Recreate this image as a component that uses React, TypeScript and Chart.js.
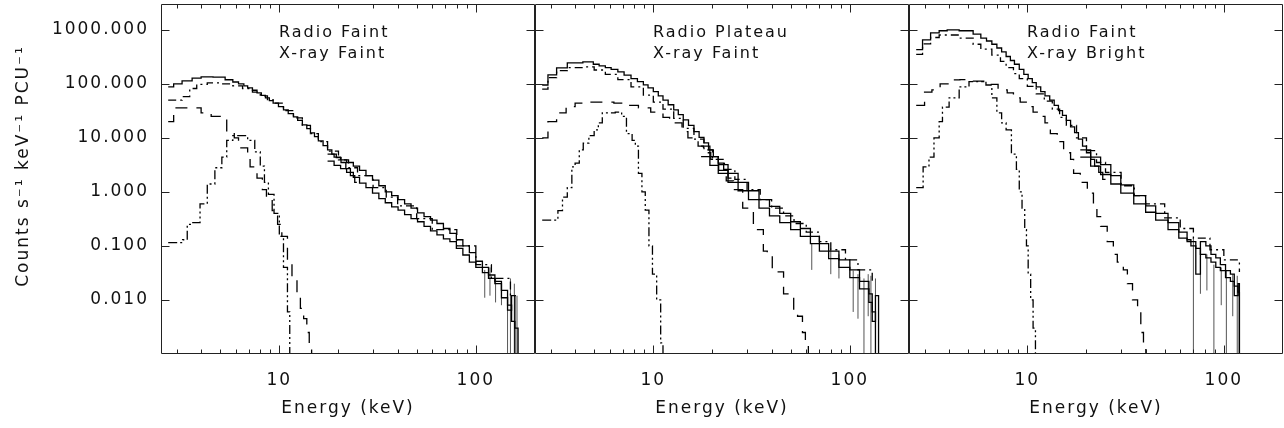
import React, { useEffect, useRef } from 'react';
import { Chart, registerables } from 'chart.js';

Chart.register(...registerables);

const CANVAS_W = 1284;
const CANVAS_H = 428;
const FONT_FAMILY = 'DejaVu Sans';
const TEXT_COLOR = '#111';
const AXIS_COLOR = '#222';

const xRange = [2.5, 200];
const yRange = [0.001, 3000];
const yTickValues = [0.01, 0.1, 1, 10, 100, 1000];
const xMajorTicks = [10, 100];
const xMinorTicks = [3, 4, 5, 6, 7, 8, 9, 20, 30, 40, 50, 60, 70, 80, 90];
const xTitle = 'Energy (keV)';
const yTitle = 'Counts s⁻¹ keV⁻¹ PCU⁻¹';

// ---------------- Panel 1: Radio Faint / X-ray Faint ----------------
const p1Labels = ['Radio Faint', 'X-ray Faint'];
const p1TotalE = [2.72, 2.9, 3.2, 3.6, 4.0, 4.6, 5.3, 5.8, 6.2, 6.6, 6.9, 7.3, 7.7, 8.1, 8.5, 8.9, 9.3, 9.9, 10.5, 11.1, 11.8, 12.4, 13.1, 13.8, 14.4, 15.1, 15.8, 16.7, 17.6, 18.5, 19.5, 20.6, 21.8, 23.0, 24.2, 24.8];
const p1TotalV = [88, 100, 113, 127, 134, 133, 119, 108, 100, 92, 84, 76, 68, 61, 55, 49, 44, 38, 33, 28, 24.4, 21, 17.4, 14.8, 12.4, 10.5, 8.8, 7.2, 6.0, 5.0, 4.3, 3.5, 2.7, 2.0, 1.5, 1.5];
const p1HexteE = [17.6, 19.0, 20.5, 22.0, 23.8, 25.6, 27.6, 29.8, 32.1, 34.6, 37.3, 40.2, 43.4, 46.8, 50.5, 54.5, 58.8, 63.4, 68.4, 73.8, 79.6, 85.9, 92.7, 100, 108, 116, 125, 135, 145, 152, 158, 164];
const p1HexteAV = [5.0, 4.4, 3.9, 3.5, 3.0, 2.5, 2.0, 1.65, 1.3, 1.0, 0.85, 0.72, 0.6, 0.5, 0.41, 0.35, 0.3, 0.26, 0.21, 0.17, 0.13, 0.1, 0.075, 0.052, 0.04, 0.029, 0.022, 0.015, 0.0065, 0.012, 0.003, 0.0004];
const p1HexteBV = [3.7, 3.1, 2.7, 2.3, 1.85, 1.45, 1.2, 0.95, 0.75, 0.63, 0.53, 0.46, 0.38, 0.32, 0.28, 0.23, 0.19, 0.16, 0.135, 0.12, 0.09, 0.068, 0.05, 0.04, 0.032, 0.025, 0.02, 0.011, 0.008, 0.004, 0.0004, 0.0004];
const p1CompE = [2.72, 3.2, 3.5, 3.8, 4.3, 5.0, 5.8, 6.5, 7.3, 8.0, 8.7, 9.3, 10.5, 11.8, 13.1, 14.4, 15.8, 17.6, 20, 22.5, 25, 30, 35, 40, 50, 60, 80, 100, 120, 150, 160];
const p1CompV = [50, 58, 82, 98, 104, 100, 92, 82, 70, 60, 51, 44, 32, 23.5, 17, 12, 8.5, 5.7, 3.9, 2.8, 2.0, 1.2, 0.8, 0.55, 0.32, 0.2, 0.1, 0.045, 0.025, 0.012, 0.012];
const p1DiskE = [2.72, 2.9, 4.0, 4.5, 5.0, 5.4, 5.9, 6.2, 6.9, 7.1, 7.7, 8.2, 8.6, 9.2, 9.8, 10.3, 11.0, 11.6, 12.3, 12.8, 13.3, 13.8, 14.2, 14.6];
const p1DiskV = [20, 36, 29, 25, 23, 12, 10, 6.5, 4.5, 2.9, 1.8, 1.1, 0.75, 0.45, 0.25, 0.15, 0.05, 0.025, 0.013, 0.007, 0.0045, 0.0025, 0.0013, 0.0004];
const p1LineE = [2.72, 3.22, 3.4, 3.6, 3.95, 4.3, 4.7, 5.1, 5.4, 5.8, 6.9, 7.5, 8.0, 8.4, 8.8, 9.4, 10.0, 10.5, 11.0, 11.3];
const p1LineV = [0.115, 0.13, 0.25, 0.27, 0.6, 1.4, 2.8, 4.4, 9, 11, 9, 5.5, 3.0, 1.5, 0.9, 0.4, 0.15, 0.04, 0.006, 0.0004];
const p1ErrE = [111, 118, 126, 135, 145, 150, 157, 162];
const p1ErrLo = [0.011, 0.012, 0.009, 0.008, 0.0002, 0.0002, 0.0002, 0.0002];
const p1ErrHi = [0.036, 0.04, 0.025, 0.022, 0.012, 0.025, 0.02, 0.012];

// ---------------- Panel 2: Radio Plateau / X-ray Faint ----------------
const p2Labels = ['Radio Plateau', 'X-ray Faint'];
const p2TotalE = [2.72, 2.91, 3.22, 3.65, 4.38, 4.95, 5.3, 5.7, 6.1, 6.6, 7.1, 7.7, 8.3, 8.9, 9.4, 10.0, 10.6, 11.2, 11.9, 12.7, 13.4, 14.2, 15.1, 16.1, 17.1, 18.1, 19.1, 20.2, 21.4, 22.8, 24.0, 25.0];
const p2TotalV = [95, 147, 197, 245, 255, 230, 215, 200, 185, 167, 145, 125, 110, 96, 84, 72, 60, 50, 41, 33, 27, 21.5, 17, 13, 10.2, 8.1, 6.0, 4.5, 3.4, 2.5, 1.8, 1.8];
const p2HexteE = [17.5, 19.4, 21.4, 24, 27, 30.5, 34.5, 39, 44, 50, 56, 63, 70, 78, 88, 100, 112, 125, 130, 135, 140];
const p2HexteAV = [7, 4.5, 3.2, 2.2, 1.5, 1.05, 0.72, 0.54, 0.4, 0.28, 0.21, 0.15, 0.11, 0.08, 0.055, 0.036, 0.022, 0.013, 0.004, 0.012, 0.0004];
const p2HexteBV = [4.5, 3.1, 2.2, 1.5, 1.05, 0.72, 0.5, 0.36, 0.27, 0.2, 0.15, 0.11, 0.08, 0.058, 0.04, 0.026, 0.016, 0.009, 0.006, 0.0004, 0.0004];
const p2CompE = [2.72, 2.91, 3.22, 3.65, 4.4, 5.0, 5.7, 6.6, 7.7, 8.9, 10, 11.2, 12.7, 14.2, 16.1, 18.1, 20, 23, 26, 30, 35, 40, 46, 52, 60, 70, 80, 95, 110, 130];
const p2CompV = [80, 130, 175, 200, 205, 180, 150, 120, 88, 62, 46, 34, 23, 15, 9.5, 6, 4, 2.6, 1.7, 1.1, 0.72, 0.5, 0.36, 0.26, 0.18, 0.12, 0.085, 0.055, 0.036, 0.022];
const p2DiskE = [2.72, 2.91, 3.22, 3.6, 4.0, 4.5, 5.4, 6.3, 7.4, 8.4, 9.7, 11.2, 12.1, 14.0, 15.0, 16.9, 18.0, 19.6, 21.5, 23.5, 25.6, 28.5, 30.2, 32.3, 33.9, 36.3, 38.0, 40.3, 43.2, 46.0, 48.8, 51.8, 54.2, 57.4, 59.4, 61.5];
const p2DiskV = [10, 20, 29, 38, 44, 46, 46, 44, 40, 36, 30, 24, 19, 13, 10, 7, 5.3, 4, 2.5, 1.6, 1.1, 0.5, 0.43, 0.23, 0.2, 0.08, 0.075, 0.036, 0.033, 0.013, 0.013, 0.0056, 0.005, 0.0025, 0.0018, 0.0004];
const p2LineE = [2.72, 3.27, 3.45, 3.65, 3.85, 4.0, 4.2, 4.4, 4.7, 5.0, 5.25, 5.5, 6.4, 6.9, 7.3, 7.8, 8.1, 8.4, 8.75, 9.1, 9.5, 9.9, 10.4, 10.9, 11.2];
const p2LineV = [0.3, 0.45, 0.8, 1.2, 2.9, 3.4, 6, 8, 11, 14, 19, 29, 30, 25, 12, 9, 7, 2.2, 1.0, 0.46, 0.1, 0.03, 0.01, 0.0016, 0.0004];
const p2ErrE = [64, 80, 88, 104, 110, 118, 124, 128, 135];
const p2ErrLo = [0.036, 0.03, 0.025, 0.006, 0.0045, 0.0002, 0.005, 0.0002, 0.003];
const p2ErrHi = [0.11, 0.09, 0.07, 0.035, 0.03, 0.025, 0.03, 0.028, 0.025];

// ---------------- Panel 3: Radio Faint / X-ray Bright ----------------
const p3Labels = ['Radio Faint', 'X-ray Bright'];
const p3TotalE = [2.72, 2.93, 3.22, 3.56, 3.91, 4.5, 5.3, 5.8, 6.2, 6.6, 7.0, 7.4, 7.8, 8.2, 8.6, 9.1, 9.6, 10.1, 10.6, 11.1, 11.7, 12.3, 13.0, 13.7, 14.4, 15.1, 15.8, 16.6, 17.4, 18.2, 19.1, 20.0, 21.0, 22.0, 23.1, 24.2, 25.0];
const p3TotalV = [430, 650, 880, 960, 1000, 960, 830, 700, 620, 540, 460, 390, 320, 270, 230, 185, 150, 125, 105, 88, 72, 60, 50, 40, 32, 26, 21, 16, 12.5, 9.5, 7.0, 5.3, 4.0, 3.0, 2.3, 1.7, 1.7];
const p3HexteE = [18.6, 21, 23.6, 26.6, 29.9, 34.8, 40, 45, 52, 59, 65, 68, 72, 76, 81, 86, 91, 96, 102, 108, 113, 118, 120];
const p3HexteAV = [6, 4.4, 3.2, 2.0, 1.35, 0.85, 0.55, 0.4, 0.27, 0.18, 0.13, 0.12, 0.03, 0.12, 0.1, 0.07, 0.06, 0.045, 0.035, 0.03, 0.012, 0.02, 0.0004];
const p3HexteBV = [4.4, 3.0, 2.1, 1.4, 0.95, 0.6, 0.42, 0.3, 0.2, 0.14, 0.12, 0.1, 0.09, 0.07, 0.06, 0.05, 0.04, 0.035, 0.026, 0.022, 0.018, 0.014, 0.0004];
const p3CompE = [2.72, 2.93, 3.22, 3.56, 3.91, 4.5, 5.3, 5.8, 6.6, 7.3, 7.8, 8.5, 9.1, 10, 11.1, 12.2, 13.4, 14.6, 15.8, 17.8, 20, 22.5, 25, 30, 35, 40, 50, 60, 70, 85, 100, 120];
const p3CompV = [350, 550, 720, 800, 800, 700, 540, 440, 340, 260, 200, 155, 125, 90, 65, 48, 34, 24, 17, 10, 5.8, 3.5, 2.3, 1.3, 0.85, 0.6, 0.33, 0.21, 0.14, 0.085, 0.055, 0.033];
const p3DiskE = [2.72, 3.0, 3.27, 3.6, 3.95, 4.54, 5.2, 6.0, 7.1, 7.9, 8.5, 9.2, 10.0, 10.7, 11.4, 12.3, 13.1, 14.2, 15.3, 16.6, 17.2, 18.6, 20.2, 21.7, 22.6, 23.6, 25.5, 27.4, 28.7, 30.8, 32.3, 34.3, 36.4, 37.8, 39.0, 40.1];
const p3DiskV = [40, 70, 77, 100, 118, 120, 112, 98, 77, 68, 55, 46, 38, 30, 25, 19, 12, 8.5, 5.3, 4, 2.2, 1.5, 0.95, 0.55, 0.35, 0.23, 0.12, 0.07, 0.05, 0.036, 0.02, 0.01, 0.006, 0.0025, 0.0013, 0.0004];
const p3LineE = [2.72, 2.95, 3.16, 3.35, 3.56, 3.7, 4.0, 4.5, 5.05, 6.16, 6.6, 7.0, 7.4, 7.8, 8.3, 8.8, 9.1, 9.4, 9.7, 9.9, 10.1, 10.4, 10.7, 11.0];
const p3LineV = [1.2, 2.9, 4.4, 10, 20, 37, 55, 88, 110, 95, 55, 29, 19, 14, 5, 2.6, 1.0, 0.5, 0.2, 0.1, 0.03, 0.01, 0.003, 0.0004];
const p3ErrE = [70, 76, 82, 89, 97, 103, 111, 117];
const p3ErrLo = [0.0002, 0.013, 0.015, 0.0002, 0.008, 0.0002, 0.005, 0.0002];
const p3ErrHi = [0.14, 0.085, 0.07, 0.045, 0.04, 0.035, 0.03, 0.028];

// line styles
const DASH_SOLID: number[] = [];
const DASH_COMP = [8, 4, 2, 4];
const DASH_DISK = [12, 9];
const DASH_LINE = [9, 3, 2, 3, 2, 3];

const panels = [
  {
    labels: p1Labels,
    curves: [
      { e: p1TotalE, v: p1TotalV, dash: DASH_SOLID },
      { e: p1HexteE, v: p1HexteAV, dash: DASH_SOLID },
      { e: p1HexteE, v: p1HexteBV, dash: DASH_SOLID },
      { e: p1CompE, v: p1CompV, dash: DASH_COMP },
      { e: p1DiskE, v: p1DiskV, dash: DASH_DISK },
      { e: p1LineE, v: p1LineV, dash: DASH_LINE },
    ],
    err: { e: p1ErrE, lo: p1ErrLo, hi: p1ErrHi },
    layout: { padLeft: 0, padRight: 749, yWidth: 161, showY: true },
  },
  {
    labels: p2Labels,
    curves: [
      { e: p2TotalE, v: p2TotalV, dash: DASH_SOLID },
      { e: p2HexteE, v: p2HexteAV, dash: DASH_SOLID },
      { e: p2HexteE, v: p2HexteBV, dash: DASH_SOLID },
      { e: p2CompE, v: p2CompV, dash: DASH_COMP },
      { e: p2DiskE, v: p2DiskV, dash: DASH_DISK },
      { e: p2LineE, v: p2LineV, dash: DASH_LINE },
    ],
    err: { e: p2ErrE, lo: p2ErrLo, hi: p2ErrHi },
    layout: { padLeft: 535, padRight: 375, yWidth: 0, showY: false },
  },
  {
    labels: p3Labels,
    curves: [
      { e: p3TotalE, v: p3TotalV, dash: DASH_SOLID },
      { e: p3HexteE, v: p3HexteAV, dash: DASH_SOLID },
      { e: p3HexteE, v: p3HexteBV, dash: DASH_SOLID },
      { e: p3CompE, v: p3CompV, dash: DASH_COMP },
      { e: p3DiskE, v: p3DiskV, dash: DASH_DISK },
      { e: p3LineE, v: p3LineV, dash: DASH_LINE },
    ],
    err: { e: p3ErrE, lo: p3ErrLo, hi: p3ErrHi },
    layout: { padLeft: 909, padRight: 1, yWidth: 0, showY: false },
  },
];

const decorPlugin = {
  id: 'panelDecor',
  beforeDraw(chart: any) {
    chart.ctx.letterSpacing = '2px';
  },
  afterDraw(chart: any, _args: any, opts: any) {
    const { ctx, chartArea } = chart;
    const { left, right, top, bottom } = chartArea;
    const xs = chart.scales.x;
    const ys = chart.scales.y;
    ctx.save();
    ctx.strokeStyle = AXIS_COLOR;
    ctx.lineWidth = 1;
    ctx.setLineDash([]);
    const L = Math.round(left) + 0.5;
    const R = Math.round(right) - 0.5;
    const T = Math.round(top) + 0.5;
    const B = Math.round(bottom) - 0.5;
    ctx.beginPath();
    ctx.rect(L, T, R - L, B - T);
    yTickValues.forEach((v) => {
      const py = Math.round(ys.getPixelForValue(v)) + 0.5;
      ctx.moveTo(L, py); ctx.lineTo(L + 8, py);
      ctx.moveTo(R, py); ctx.lineTo(R - 8, py);
    });
    xMajorTicks.forEach((v) => {
      const px = Math.round(xs.getPixelForValue(v)) + 0.5;
      ctx.moveTo(px, B); ctx.lineTo(px, B - 8);
      ctx.moveTo(px, T); ctx.lineTo(px, T + 8);
    });
    xMinorTicks.forEach((v) => {
      const px = Math.round(xs.getPixelForValue(v)) + 0.5;
      ctx.moveTo(px, B); ctx.lineTo(px, B - 4);
      ctx.moveTo(px, T); ctx.lineTo(px, T + 4);
    });
    ctx.stroke();

    ctx.fillStyle = TEXT_COLOR;
    ctx.letterSpacing = '2px';
    ctx.font = `16px "${FONT_FAMILY}"`;
    ctx.textAlign = 'left';
    ctx.textBaseline = 'alphabetic';
    ctx.fillText(opts.labels[0], left + 118, top + 33);
    ctx.fillText(opts.labels[1], left + 118, top + 54);

    if (opts.showYTitle) {
      ctx.font = `17px "${FONT_FAMILY}"`;
      ctx.translate(24, 166);
      ctx.rotate(-Math.PI / 2);
      ctx.textAlign = 'center';
      ctx.textBaseline = 'middle';
      ctx.fillText(yTitle, 0, 0);
    }
    ctx.restore();
  },
};

function buildDatasets(panel: any) {
  const ds: any[] = panel.curves.map((c: any) => ({
    data: c.e.map((e: number, i: number) => ({ x: e, y: c.v[i] })),
    stepped: 'before',
    borderColor: '#000',
    borderWidth: 1.3,
    borderDash: c.dash,
    pointRadius: 0,
    fill: false,
  }));
  const errData: any[] = [];
  panel.err.e.forEach((e: number, i: number) => {
    errData.push({ x: e, y: panel.err.lo[i] });
    errData.push({ x: e, y: panel.err.hi[i] });
    errData.push({ x: e, y: null });
  });
  ds.push({
    data: errData,
    borderColor: '#555',
    borderWidth: 1,
    pointRadius: 0,
    spanGaps: false,
    fill: false,
  });
  return ds;
}

function makeConfig(panel: any) {
  const lay = panel.layout;
  const tickFont = { family: FONT_FAMILY, size: 17 };
  return {
    type: 'line',
    data: { datasets: buildDatasets(panel) },
    options: {
      animation: false,
      responsive: false,
      events: [],
      layout: { padding: { left: lay.padLeft, right: lay.padRight, top: 4, bottom: 0 } },
      plugins: {
        legend: { display: false },
        tooltip: { enabled: false },
        panelDecor: { labels: panel.labels, showYTitle: lay.showY },
      },
      scales: {
        x: {
          type: 'logarithmic',
          position: 'bottom',
          min: xRange[0],
          max: xRange[1],
          grid: { display: false, drawTicks: false },
          border: { display: false },
          ticks: {
            autoSkip: false,
            maxRotation: 0,
            padding: 16,
            font: tickFont,
            color: TEXT_COLOR,
            callback: (v: any) => String(v),
          },
          afterBuildTicks: (s: any) => {
            s.ticks = xMajorTicks.map((v) => ({ value: v }));
          },
          afterFit: (s: any) => {
            s.height = 74;
            s.paddingLeft = 0;
            s.paddingRight = 0;
            s.paddingTop = 0;
            s.paddingBottom = 0;
          },
          title: {
            display: true,
            text: xTitle,
            font: tickFont,
            color: TEXT_COLOR,
            padding: { top: 0, bottom: 9 },
          },
        },
        y: {
          type: 'logarithmic',
          position: 'left',
          display: lay.showY,
          min: yRange[0],
          max: yRange[1],
          grid: { display: false, drawTicks: false },
          border: { display: false },
          ticks: {
            autoSkip: false,
            padding: 12,
            font: tickFont,
            color: TEXT_COLOR,
            callback: (v: any) => Number(v).toFixed(3),
          },
          afterBuildTicks: (s: any) => {
            s.ticks = yTickValues.map((v) => ({ value: v }));
          },
          afterFit: (s: any) => {
            s.width = lay.yWidth;
            s.paddingTop = 0;
            s.paddingBottom = 0;
            s.paddingLeft = 0;
            s.paddingRight = 0;
          },
        },
      },
    },
    plugins: [decorPlugin],
  };
}

export default function App() {
  const ref0 = useRef<HTMLCanvasElement>(null);
  const ref1 = useRef<HTMLCanvasElement>(null);
  const ref2 = useRef<HTMLCanvasElement>(null);

  useEffect(() => {
    const refs = [ref0, ref1, ref2];
    const charts = refs.map((r, i) => new Chart(r.current as HTMLCanvasElement, makeConfig(panels[i]) as any));
    return () => charts.forEach((c) => c.destroy());
  }, []);

  const canvasStyle: React.CSSProperties = { position: 'absolute', left: 0, top: 0, width: CANVAS_W, height: CANVAS_H };
  return (
    <div style={{ position: 'absolute', left: 0, top: 0, width: CANVAS_W, height: CANVAS_H, background: '#fff' }}>
      <canvas ref={ref0} width={CANVAS_W} height={CANVAS_H} style={canvasStyle} />
      <canvas ref={ref1} width={CANVAS_W} height={CANVAS_H} style={canvasStyle} />
      <canvas ref={ref2} width={CANVAS_W} height={CANVAS_H} style={canvasStyle} />
    </div>
  );
}
